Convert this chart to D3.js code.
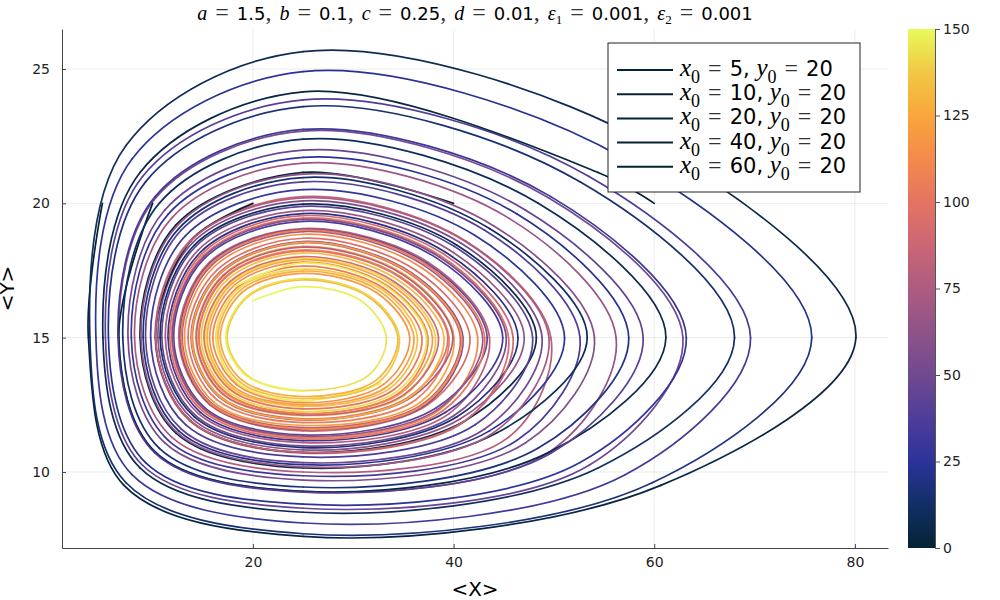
<!DOCTYPE html>
<html>
<head>
<meta charset="utf-8">
<script src="https://cdn.jsdelivr.net/npm/d3@7"></script>
<style>
body{margin:0;background:#fff;}
svg{font-family:"DejaVu Sans",sans-serif;}
text{white-space:pre;}
</style>
</head>
<body>
<svg id="svg" width="1000" height="600"></svg>
<script>
// ---- data ----
var xTicks=[20,40,60,80];
var yTicks=[10,15,20,25];
var cbTicks=[0,25,50,75,100,125,150];
var x0s=[5,10,20,40,60];
var y0=20;

// thermal colour bar, time 0..150
var thermalDomain=[0,12.5,25,37.5,50,62.5,75,87.5,100,112.5,125,137.5,150];
var thermalColors=["#042333","#122f66","#2c3399","#4f3d9a","#704990","#8f5388","#ad5c80","#cb6675","#e47462","#f48a4b","#f9a63c","#f2c843","#e8fa5b"];

// each trajectory: loops of points (<X>,<Y>); times = start time of every loop, then the end time
var traj5=[
 [[5,20],[3.6,15],[7.15,9.5],[25,7.6],[60.65,9.5]],
 [[80.1,15],[59.8,22.15],[25,25.65],[7.35,22.15],[3.75,15],[7.35,9.6],[25,7.7],[59.8,9.6]],
 [[75.7,15],[57.1,21.65],[25,24.9],[7.95,21.65],[4.35,15],[7.95,9.9],[25,8.1],[57.1,9.9]],
 [[69.6,15],[53.5,21],[25,23.85],[9,21],[5.3,15],[9,10.25],[25,8.65],[53.5,10.25]],
 [[62.86,15],[49.5,20.2],[25,22.69],[10.3,20.2],[6.63,15],[10.3,10.73],[25,9.28],[49.5,10.73]],
 [[56.2,15],[45.5,19.45],[25,21.5],[11.9,19.45],[8.2,15],[11.9,11.3],[25,10],[45.5,11.3]],
 [[49.7,15],[41.2,18.6],[25,20.25],[13.7,18.6],[10.25,15],[13.7,11.9],[25,10.7],[41.2,11.9]],
 [[45.48,15],[38.65,18.06],[25,19.45],[15.06,18.06],[11.89,15],[15.06,12.33],[25,11.29],[38.65,12.33]],
 [[42.4,15],[36.7,17.63],[25,18.85],[16.1,17.63],[13.18,15],[16.1,12.6],[25,11.73],[36.7,12.6]],
 [[40.05,15],[35.2,17.33],[25,18.4],[17,17.33],[14.3,15],[17,12.88],[25,12.1],[35.2,12.88]],
 [[38.2,15],[33.9,17.05],[25,17.95],[17.8,17.05],[15.25,15],[17.8,13.1],[25,12.4]]
];
var times5=[0,5,20,35,50,65,80,95,110,124,138,150];

var traj10=[
 [[10,20],[6.63,15],[10.3,10.73],[25,9.28],[49.5,10.73]],
 [[61.16,15],[48.4,20.01],[25,22.39],[10.68,20.01],[7.03,15],[10.68,10.88],[25,9.44],[48.4,10.88]],
 [[57.46,15],[46.33,19.6],[25,21.71],[11.56,19.6],[7.88,15],[11.56,11.18],[25,9.86],[46.33,11.18]],
 [[52.6,15],[43.1,19],[25,20.8],[12.85,19],[9.3,15],[12.85,11.6],[25,10.35],[43.1,11.6]],
 [[48.82,15],[40.68,18.53],[25,20.09],[13.97,18.53],[10.53,15],[13.97,11.98],[25,10.82],[40.68,11.98]],
 [[47.04,15],[39.55,18.27],[25,19.73],[14.57,18.27],[11.27,15],[14.57,12.17],[25,11.09],[39.55,12.17]],
 [[43.58,15],[37.45,17.81],[25,19.06],[15.68,17.81],[12.6,15],[15.68,12.51],[25,11.53],[37.45,12.51]],
 [[41.63,15],[36.23,17.51],[25,18.7],[16.4,17.51],[13.53,15],[16.4,12.69],[25,11.84],[36.23,12.69]],
 [[39.55,15],[34.8,17.25],[25,18.27],[17.2,17.25],[14.57,15],[17.2,12.95],[25,12.17],[34.8,12.95]],
 [[37.9,15],[33.7,17],[25,17.9],[17.9,17],[15.43,15],[17.9,13.13],[25,12.45],[33.7,13.13]],
 [[36.4,15],[32.8,16.8],[25,17.55],[18.5,16.8],[16.3,15],[18.5,13.3],[25,12.65],[32.8,13.3]]
];
var times10=[0,6,21,36,51,65,79,93,107,121,135,150];

var traj20=[
 [[20,20],[13.8,18.6],[10.3,15],[13.8,11.9],[25,10.73],[41.1,11.9]],
 [[48.25,15],[40.3,18.45],[25,19.97],[14.17,18.45],[10.75,15],[14.17,12.05],[25,10.91],[40.3,12.05]],
 [[46.42,15],[39.2,18.18],[25,19.62],[14.77,18.18],[11.54,15],[14.77,12.22],[25,11.17],[39.2,12.22]],
 [[44.9,15],[38.28,17.97],[25,19.33],[15.22,17.97],[12.1,15],[15.22,12.39],[25,11.38],[38.28,12.39]],
 [[43.35,15],[37.3,17.78],[25,19.03],[15.75,17.78],[12.73,15],[15.75,12.52],[25,11.58],[37.3,12.52]],
 [[40.94,15],[35.79,17.42],[25,18.58],[16.65,17.42],[13.84,15],[16.65,12.78],[25,11.93],[35.79,12.78]],
 [[39.93,15],[35.09,17.31],[25,18.37],[17.05,17.31],[14.37,15],[17.05,12.89],[25,12.12],[35.09,12.89]],
 [[38.5,15],[34.1,17.08],[25,18.02],[17.68,17.08],[15.12,15],[17.68,13.08],[25,12.35],[34.1,13.08]],
 [[36.85,15],[33.03,16.84],[25,17.66],[18.35,16.84],[16,15],[18.35,13.26],[25,12.58],[33.03,13.26]],
 [[35.63,15],[32.26,16.69],[25,17.39],[18.94,16.69],[16.74,15],[18.94,13.41],[25,12.81],[32.26,13.41]],
 [[34.45,15],[31.45,16.53],[25,17.15],[19.51,16.53],[17.43,15],[19.51,13.58],[25,13.03],[31.45,13.58]],
 [[33.3,15],[30.75,16.38],[25,16.9],[20,16.38]]
];
var times20=[0,5,19,33,47,61,75,89,103,117,131,145,150];

var traj40=[
 [[40,20],[25,21.15],[12.33,19.2],[8.75,15],[12.33,11.45],[25,10.15],[44.3,11.45]],
 [[53.32,15],[43.58,19.06],[25,20.96],[12.6,19.06],[9.06,15],[12.6,11.53],[25,10.27],[43.58,11.53]],
 [[51.06,15],[42.15,18.8],[25,20.51],[13.29,18.8],[9.81,15],[13.29,11.76],[25,10.56],[42.15,11.76]],
 [[47.88,15],[40.05,18.4],[25,19.89],[14.3,18.4],[10.92,15],[14.3,12.1],[25,10.97],[40.05,12.1]],
 [[45.25,15],[38.5,18.02],[25,19.4],[15.12,18.02],[11.98,15],[15.12,12.35],[25,11.33],[38.5,12.35]],
 [[42.9,15],[37,17.7],[25,18.95],[15.9,17.7],[12.95,15],[15.9,12.55],[25,11.65],[37,12.55]],
 [[40.68,15],[35.6,17.39],[25,18.53],[16.75,17.39],[13.97,15],[16.75,12.81],[25,11.98],[35.6,12.81]],
 [[39.43,15],[34.7,17.23],[25,18.23],[17.25,17.23],[14.63,15],[17.25,12.98],[25,12.18],[34.7,12.98]],
 [[37.45,15],[33.4,16.93],[25,17.81],[18.08,16.93],[15.68,15],[18.08,13.18],[25,12.51],[33.4,13.18]],
 [[36.05,15],[32.55,16.75],[25,17.48],[18.7,16.75],[16.5,15],[18.7,13.35],[25,12.73],[32.55,13.35]],
 [[34.6,15],[31.6,16.55],[25,17.2],[19.43,16.55],[17.3,15],[19.43,13.55],[25,13]]
];
var times40=[0,10,25,40,54,68,82,96,110,124,138,150];

var traj60=[
 [[60,20],[54.4,21.15],[25,24.15],[8.75,21.15],[5.05,15],[8.75,10.15],[25,8.5],[54.4,10.15]],
 [[68,15],[52.6,20.8],[25,23.6],[9.3,20.8],[5.6,15],[9.3,10.35],[25,8.8],[52.6,10.35]],
 [[63.2,15],[49.7,20.25],[25,22.75],[10.25,20.25],[6.55,15],[10.25,10.7],[25,9.25],[49.7,10.7]],
 [[58.9,15],[47.15,19.75],[25,21.98],[11.22,19.75],[7.55,15],[11.22,11.08],[25,9.7],[47.15,11.08]],
 [[54.04,15],[44.05,19.15],[25,21.09],[12.41,19.15],[8.85,15],[12.41,11.48],[25,10.19],[44.05,11.48]],
 [[49.5,15],[41.1,18.6],[25,20.2],[13.8,18.6],[10.3,15],[13.8,11.9],[25,10.73],[41.1,11.9]],
 [[45.93,15],[38.93,18.13],[25,19.54],[14.93,18.13],[11.71,15],[14.93,12.28],[25,11.23],[38.93,12.28]],
 [[43.1,15],[37.15,17.74],[25,19],[15.8,17.74],[12.85,15],[15.8,12.54],[25,11.6],[37.15,12.54]],
 [[40.8,15],[35.7,17.4],[25,18.55],[16.7,17.4],[13.9,15],[16.7,12.8],[25,11.95],[35.7,12.8]],
 [[39.05,15],[34.45,17.15],[25,18.15],[17.43,17.15],[14.85,15],[17.43,13.03],[25,12.25],[34.45,13.03]],
 [[37.3,15],[33.3,16.9],[25,17.78],[18.15,16.9]]
];
var times60=[0,13,28,43,58,73,88,102,116,130,144,150];

var series=[
 {loops:traj5,times:times5},
 {loops:traj10,times:times10},
 {loops:traj20,times:times20},
 {loops:traj40,times:times40},
 {loops:traj60,times:times60}
];

var EQ="\u2004=\u2004", CM=",\u2004";
var titleParts=[["a","i"],[EQ,"m"],["1.5","n"],[CM,"m"],["b","i"],[EQ,"m"],["0.1","n"],[CM,"m"],
 ["c","i"],[EQ,"m"],["0.25","n"],[CM,"m"],["d","i"],[EQ,"m"],["0.01","n"],[CM,"m"],
 ["ε","i"],["1","s"],[EQ,"m"],["0.001","n"],[CM,"m"],["ε","i"],["2","s"],[EQ,"m"],["0.001","n"]];

// ---- layout ----
var plot={left:62,right:888,top:29,bottom:548};
var svg=d3.select("#svg");

var x=d3.scaleLinear().domain([0.97,83.3]).range([plot.left,plot.right]);
var y=d3.scaleLinear().domain([7.17,26.49]).range([plot.bottom,plot.top]);
var color=d3.scaleLinear().domain(thermalDomain).range(thermalColors).interpolate(d3.interpolateRgb).clamp(true);

// rich text with math italic and subscripts
function rich(sel,parts,sz){
    var shift=0;
    parts.forEach(function(p){
        var t=sel.append("tspan").text(p[0]);
        var want=0;
        if(p[1]=="i") t.attr("font-family","'Liberation Serif',serif").attr("font-style","italic").attr("font-size",sz.i);
        if(p[1]=="m") t.attr("font-family","'Liberation Serif',serif").attr("font-size",sz.m).attr("fill","#333");
        if(p[1]=="n") t.attr("font-size",sz.n);
        if(p[1]=="s"){ t.attr("font-family","'Liberation Serif',serif").attr("font-size",sz.s); want=sz.d; }
        if(want!=shift){ t.attr("dy",want-shift); shift=want; }
    });
}

// grid
svg.append("g").selectAll("line").data(xTicks).enter().append("line")
    .attr("x1",d=>x(d)).attr("x2",d=>x(d)).attr("y1",plot.top).attr("y2",plot.bottom)
    .attr("stroke","#000").attr("stroke-opacity",0.08);
svg.append("g").selectAll("line").data(yTicks).enter().append("line")
    .attr("y1",d=>y(d)).attr("y2",d=>y(d)).attr("x1",plot.left).attr("x2",plot.right)
    .attr("stroke","#000").attr("stroke-opacity",0.08);

// trajectories, coloured by time
function withTimes(loops,times){
    var pts=[];
    loops.forEach(function(loop,k){
        var t0=times[k],t1=times[k+1],n=(k==loops.length-1)?loop.length-1:loop.length;
        loop.forEach(function(p,j){ pts.push({x:p[0],y:p[1],t:t0+(t1-t0)*j/n}); });
    });
    return pts;
}
function recorder(){
    var r={segs:[],cx:0,cy:0};
    r.moveTo=function(a,b){r.cx=a;r.cy=b;};
    r.lineTo=function(a,b){r.segs.push("M"+r.cx+","+r.cy+"L"+a+","+b);r.cx=a;r.cy=b;};
    r.bezierCurveTo=function(a,b,c,d,e,f){r.segs.push("M"+r.cx+","+r.cy+"C"+a+","+b+","+c+","+d+","+e+","+f);r.cx=e;r.cy=f;};
    r.closePath=function(){};
    return r;
}
var lines=svg.append("g").attr("fill","none").attr("stroke-width",1.7).attr("stroke-linecap","round");
series.forEach(function(s){
    var pts=withTimes(s.loops,s.times);
    var rec=recorder();
    d3.line().x(d=>x(d.x)).y(d=>y(d.y)).curve(d3.curveCatmullRom).context(rec)(pts);
    rec.segs.forEach(function(d,i){
        lines.append("path").attr("d",d).attr("stroke",color((pts[i].t+pts[i+1].t)/2));
    });
});

// axes
var xAxis=svg.append("g").attr("transform","translate(0,"+plot.bottom+")")
    .call(d3.axisBottom(x).tickValues(xTicks).tickSizeInner(-4).tickSizeOuter(0).tickPadding(9));
var yAxis=svg.append("g").attr("transform","translate("+plot.left+",0)")
    .call(d3.axisLeft(y).tickValues(yTicks).tickSizeInner(-4).tickSizeOuter(0).tickPadding(12));
[xAxis,yAxis].forEach(function(a){
    a.select(".domain").attr("stroke","#444");
    a.selectAll(".tick line").attr("stroke","#444");
    a.selectAll("text").attr("font-size",14).attr("fill","#222").attr("font-family","'DejaVu Sans',sans-serif");
});

svg.append("text").attr("x",(plot.left+plot.right)/2).attr("y",596).attr("text-anchor","middle")
    .attr("font-size",20).text("<X>");
svg.append("text").attr("transform","translate(14,"+(plot.top+plot.bottom)/2+") rotate(-90)")
    .attr("text-anchor","middle").attr("font-size",20).text("<Y>");

// title
rich(svg.append("text").attr("x",(plot.left+plot.right)/2).attr("y",20).attr("text-anchor","middle"),
    titleParts,{i:20,m:24,n:18,s:13,d:4});

// legend
var leg=svg.append("g");
leg.append("rect").attr("x",608).attr("y",43).attr("width",252).attr("height",149)
    .attr("fill","#fff").attr("stroke","#222").attr("stroke-width",1);
x0s.forEach(function(v,i){
    var yy=70+i*24.2;
    leg.append("line").attr("x1",617).attr("x2",673).attr("y1",yy).attr("y2",yy)
        .attr("stroke",color(0)).attr("stroke-width",2);
    rich(leg.append("text").attr("x",680).attr("y",yy+6),
        [["x","i"],["0","s"],[EQ,"m"],[v+", ","n"],["y","i"],["0","s"],[EQ,"m"],[y0+"","n"]],
        {i:25,m:24,n:21,s:18,d:7});
});

// colour bar
var cb={x:908,w:27};
var cy=d3.scaleLinear().domain([0,150]).range([plot.bottom,plot.top]);
var grad=svg.append("defs").append("linearGradient").attr("id","thermal")
    .attr("x1",0).attr("y1",1).attr("x2",0).attr("y2",0);
thermalDomain.forEach(function(d,i){
    grad.append("stop").attr("offset",d/150).attr("stop-color",thermalColors[i]);
});
svg.append("rect").attr("x",cb.x).attr("y",plot.top).attr("width",cb.w).attr("height",plot.bottom-plot.top)
    .attr("fill","url(#thermal)");
var cbAxis=svg.append("g").attr("transform","translate("+(cb.x+cb.w)+",0)")
    .call(d3.axisRight(cy).tickValues(cbTicks).tickSizeInner(5).tickSizeOuter(0).tickPadding(3));
cbAxis.select(".domain").attr("stroke","#555");
cbAxis.selectAll(".tick line").attr("stroke","#555");
cbAxis.selectAll("text").attr("font-size",14).attr("fill","#222").attr("font-family","'DejaVu Sans',sans-serif");
</script>
</body>
</html>
